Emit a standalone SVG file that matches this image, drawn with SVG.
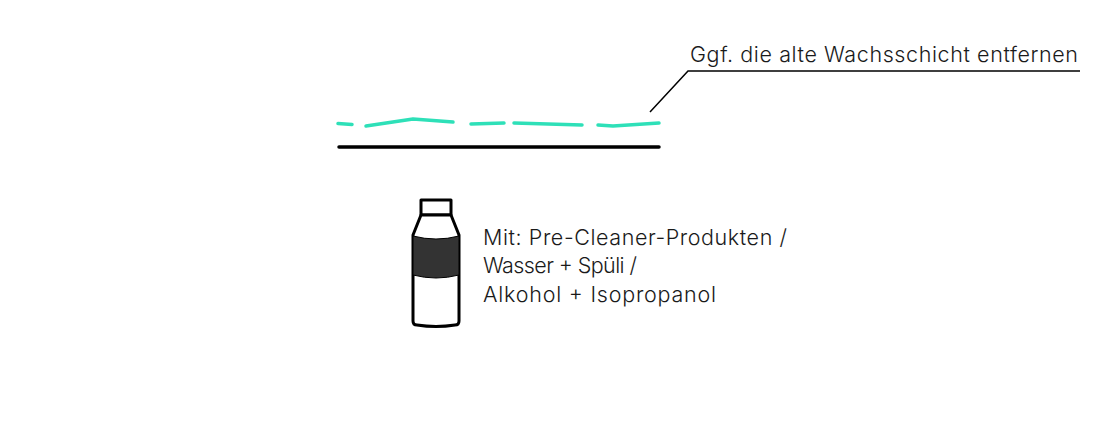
<svg xmlns="http://www.w3.org/2000/svg" width="1100" height="432" viewBox="0 0 1100 432">
<style>
.t{font-family:"Inter","Liberation Sans",sans-serif;font-size:21.5px;font-weight:300;fill:#1a1a1a}
.w{fill:none;stroke:#2ee0b8;stroke-width:3.5;stroke-linecap:round;stroke-linejoin:round}
</style>
<rect width="1100" height="432" fill="#fff"/>
<g id="wax">
<polyline class="w" points="338,123.5 352,124.5"/>
<polyline class="w" points="366,126 413,119 453,122"/>
<polyline class="w" points="471,124 504,123"/>
<polyline class="w" points="514,123 582,125"/>
<polyline class="w" points="598,125 613,126 659,123"/>
</g>
<g id="surface"><line x1="339" y1="147" x2="659" y2="147" stroke="#000" stroke-width="3.5" stroke-linecap="round"/></g>
<g id="connectors"><polyline points="650,112 688,71 1080,71" fill="none" stroke="#000" stroke-width="1.5"/></g>
<g id="label1"><text class="t" x="690" y="62" textLength="388" lengthAdjust="spacing">Ggf. die alte Wachsschicht entfernen</text></g>
<g id="bottle" stroke="#000" stroke-width="3" stroke-linejoin="round">
<rect x="421" y="200" width="30" height="15" fill="#fff"/>
<path d="M421,215 L451,215 L459,235 L459,321 Q459,325 455,325 Q436,328 417,325 Q413,325 413,321 L413,235 Z" fill="#fff"/>
<path d="M413,236 Q436,242 459,236 L459,275 Q436,281 413,275 Z" fill="#333" stroke-width="1"/>
</g>
<g id="label2">
<text class="t" x="483" y="245" textLength="304" lengthAdjust="spacing">Mit: Pre-Cleaner-Produkten /</text>
<text class="t" x="483" y="273" textLength="154" lengthAdjust="spacing">Wasser + Spüli /</text>
<text class="t" x="483" y="302" textLength="233" lengthAdjust="spacing">Alkohol + Isopropanol</text>
</g>
</svg>
